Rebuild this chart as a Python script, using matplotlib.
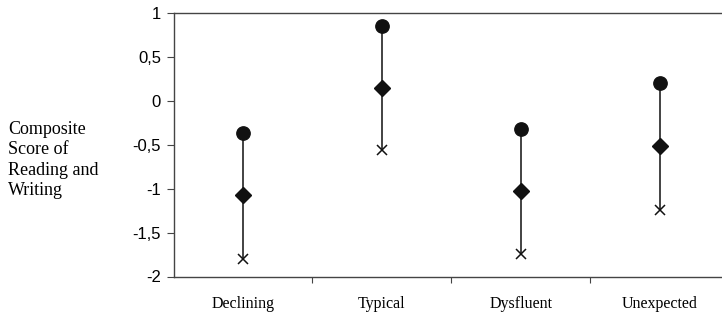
import matplotlib
matplotlib.use("Agg")
import matplotlib.pyplot as plt
import numpy as np

categories = ["Declining", "Typical", "Dysfluent", "Unexpected"]
upper = [-0.365, 0.855, -0.316, 0.198]
mean = [-1.076, 0.148, -1.03, -0.513]
lower = [-1.80, -0.563, -1.741, -1.239]
yticks = [1, 0.5, 0, -0.5, -1, -1.5, -2]
ytick_labels = ["1", "0,5", "0", "-0,5", "-1", "-1,5", "-2"]

fig = plt.figure(figsize=(7.22, 3.13), dpi=100)
left = 173.5 / 722
right = 729 / 722
bottom = (313 - 276.5) / 313
top = (313 - 13) / 313
ax = fig.add_axes([left, bottom, right - left, top - bottom])

x = np.arange(len(categories))
for xi, lo, hi in zip(x, lower, upper):
    ax.plot([xi, xi], [lo, hi], color="#222222", lw=1.2, zorder=1)
ax.plot(x, upper, linestyle="none", marker="o", ms=9.6, color="#111111", zorder=3)
ax.plot(x, mean, linestyle="none", marker="D", ms=8.6, color="#111111", zorder=3)
ax.plot(x, lower, linestyle="none", marker="x", ms=7.5, mew=1.1, color="#111111", zorder=3)

ax.set_xlim(-0.5, 3.5)
ax.set_ylim(-2, 1)
ax.set_yticks(yticks)
ax.set_yticklabels(ytick_labels, fontfamily="Liberation Sans", fontsize=12)
ax.set_xticks(x)
ax.set_xticklabels(categories, fontfamily="Liberation Serif", fontsize=11.5)
ax.tick_params(axis="x", length=0, pad=14)
ax.set_xticks([0.5, 1.5, 2.5], minor=True)
ax.tick_params(axis="x", which="minor", length=4, width=0.8, color="#444444")
ax.tick_params(axis="y", length=5, width=0.8, pad=4, color="#444444")

for s in ["left", "bottom", "top"]:
    ax.spines[s].set_color("#444444")
    ax.spines[s].set_linewidth(1.0)
ax.spines["right"].set_visible(False)

fig.text(8 / 722, 1 - 160 / 313, "Composite\nScore of\nReading and\nWriting",
         fontfamily="Liberation Serif", fontsize=13, ha="left", va="center",
         linespacing=1.27)

fig.savefig("out.png", dpi=100)
